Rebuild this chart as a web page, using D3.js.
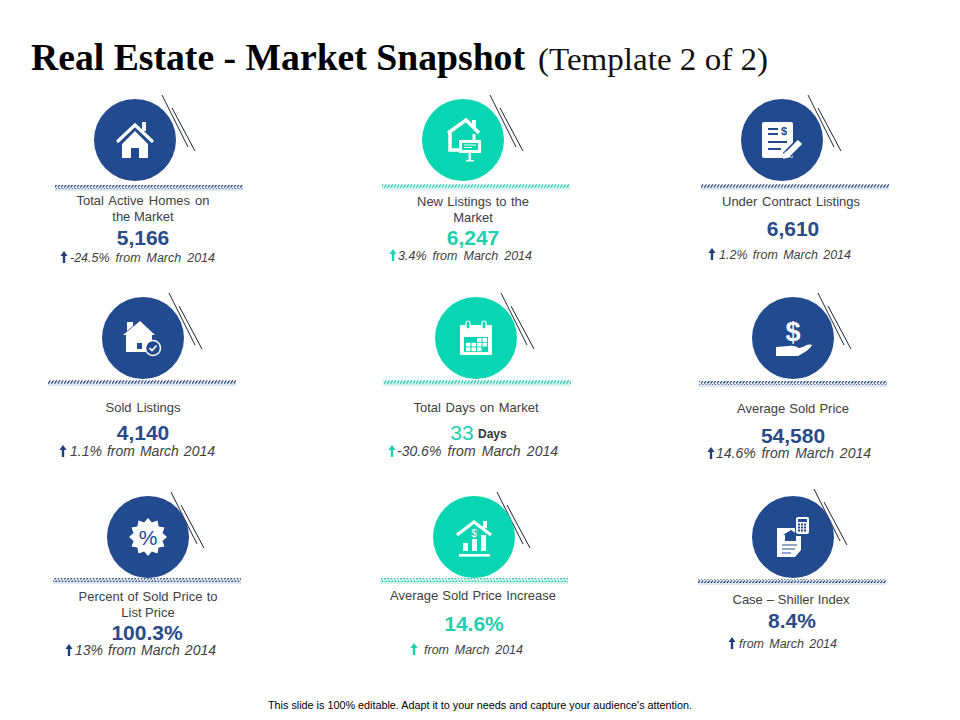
<!DOCTYPE html>
<html>
<head>
<meta charset="utf-8">
<script src="https://cdnjs.cloudflare.com/ajax/libs/d3/7.8.5/d3.min.js"></script>
<style>
html, body { margin: 0; padding: 0; background: #fff; }
text { font-family: "Liberation Sans", Arial, sans-serif; }
</style>
</head>
<body>
<div id="chart"></div>
<script>
// values
var titles = [
    ["Total Active Homes on", "the Market"],
    ["New Listings to the", "Market"],
    ["Under Contract Listings"],
    ["Sold Listings"],
    ["Total Days on Market"],
    ["Average Sold Price"],
    ["Percent of Sold Price to", "List Price"],
    ["Average Sold Price Increase"],
    ["Case \u2013 Shiller Index"]
];
var values = ["5,166", "6,247", "6,610", "4,140", "33", "54,580", "100.3%", "14.6%", "8.4%"];
var changes = [
    "-24.5% from March 2014", "3.4% from March 2014", "1.2% from March 2014",
    "1.1% from March 2014", "-30.6% from March 2014", "14.6% from March 2014",
    "13% from March 2014", "from March 2014", "from March 2014"
];
var tones = ["navy", "teal", "navy", "navy", "teal", "navy", "navy", "teal", "navy"];

// layout of the nine cards (picture coordinates)
var circleX = [135, 463, 782, 143, 476, 793, 148, 474, 793];
var circleY = [140, 140, 140, 338, 338, 338, 537, 537, 537];
var slashX = [162, 490, 808, 169, 501, 818, 171, 497, 814];
var slashY = [95, 95, 95, 293, 293, 293, 492, 492, 489];
var ruleX = [55, 382, 701, 48, 383, 699, 53, 380, 698];
var ruleY = [187, 186, 186, 382, 382, 383, 580, 580, 581];
var titleX = [143, 473, 791, 143, 476, 793, 148, 473, 791];
var titleY = [205, 206, 206, 412, 412, 413, 601, 600, 604];
var valueX = [143, 473, 793, 143, 462, 793, 147, 474, 792];
var valueY = [245, 245, 236, 440, 440, 443, 640, 631, 628];
var arrowX = [64, 393, 712, 63, 392, 711, 69, 414, 732];
var changeX = [70, 398, 719, 70, 397, 716, 75, 424, 739];
var changeY = [262, 260, 259, 456, 456, 458, 655, 654, 648];
var changeW = [145, 134, 132, 145, 161, 155, 141, 99, 98];
var changeSize = [12.5, 12.5, 12.5, 14, 14, 14, 14, 12.5, 12.5];
var titleW = [133, 112, 138, 75, 125, 112, 139, 166, 117];
var ruleWidth = 188;

var colors = { navy: "#224a8f", teal: "#08d5b1" };
var valueColors = { navy: "#2a4b87", teal: "#1fcfae" };
var bands = { navy: "#dfe6f3", teal: "#d3f5ee" };

var svg = d3.select("#chart").append("svg")
    .attr("width", 960)
    .attr("height", 720)
    .style("display", "block");

// hatched rule under each circle
var defs = svg.append("defs");
["navy", "teal"].forEach(function(t) {
    var p = defs.append("pattern")
        .attr("id", "hatch-" + t)
        .attr("patternUnits", "userSpaceOnUse")
        .attr("width", 3.2)
        .attr("height", 4);
    p.append("path")
        .attr("d", "M0.2,3.6L2.4,0.4")
        .attr("stroke", t == "navy" ? "#1f3f78" : "#14bfa5")
        .attr("stroke-width", 1.2);
});

// spread the gaps between words so a line reaches its measured width
function fitWords(sel, width) {
    var node = sel.node();
    var gaps = sel.text().split(" ").length - 1;
    if (gaps > 0) sel.style("word-spacing", (width - node.getComputedTextLength()) / gaps + "px");
}

// the main title
svg.append("text")
    .attr("x", 31).attr("y", 70)
    .attr("textLength", 494).attr("lengthAdjust", "spacingAndGlyphs")
    .style("font-family", "'Liberation Serif', serif")
    .style("font-weight", "bold")
    .style("font-size", "38px")
    .attr("fill", "#000")
    .text("Real Estate - Market Snapshot");
svg.append("text")
    .attr("x", 538).attr("y", 70)
    .attr("textLength", 230).attr("lengthAdjust", "spacingAndGlyphs")
    .style("font-family", "'Liberation Serif', serif")
    .style("font-size", "32px")
    .attr("fill", "#111")
    .text("(Template 2 of 2)");

svg.append("text")
    .attr("x", 480).attr("y", 709)
    .attr("text-anchor", "middle")
    .attr("textLength", 424).attr("lengthAdjust", "spacingAndGlyphs")
    .style("font-size", "10px")
    .attr("fill", "#000")
    .text("This slide is 100% editable. Adapt it to your needs and capture your audience's attention.");

// small helpers for the white pictograms
function poly(g, d, fill) {
    return g.append("path").attr("d", d).attr("fill", fill);
}
function stroke(g, d, col, w) {
    return g.append("path").attr("d", d).attr("fill", "none")
        .attr("stroke", col).attr("stroke-width", w);
}
function box(g, x, y, w, h, fill, r) {
    return g.append("rect").attr("x", x).attr("y", y).attr("width", w).attr("height", h)
        .attr("fill", fill).attr("rx", r || 0);
}

var W = "#fff";
var icons = [
    function(g, c) { // house
        stroke(g, "M-17,1L0,-15L17,1", W, 3.2).attr("stroke-linecap", "round");
        box(g, 7, -18, 4, 9, W);
        poly(g, "M-13,4L0,-9L13,4V18H4V8H-4V18H-13Z", W);
    },
    function(g, c) { // house with a for-sale sign
        stroke(g, "M-15,-7L3,-20L16,-7", W, 3.5);
        box(g, 9, -20, 4, 8, W);
        stroke(g, "M-13,-8V10H-4", W, 3.5);
        stroke(g, "M11,-6V1", W, 3);
        box(g, -4, 0, 22, 13, W);
        box(g, -1, 3, 16, 7, c);
        stroke(g, "M1,5H13M1,7.5H9", W, 1);
        box(g, 5.5, 13, 2.5, 8, W);
        box(g, 3, 20, 8, 1.5, W);
    },
    function(g, c) { // contract with a pen
        box(g, -20, -18, 31, 36, W, 2);
        stroke(g, "M-14,-11H-4M-14,-6H-4M-14,2H5M-14,9H-1", c, 2);
        g.append("text").attr("x", 2).attr("y", -5).attr("text-anchor", "middle")
            .style("font-size", "11px").style("font-weight", "bold")
            .attr("fill", c).text("$");
        stroke(g, "M4,16L18,2", c, 9);
        stroke(g, "M5,15L18,2", W, 6);
        poly(g, "M1,19L3,11L9,17Z", W);
    },
    function(g, c) { // sold house with a check
        poly(g, "M-20,-3L-3,-17L12,-3H9V14H-17V-3Z", W);
        poly(g, "M-16,-16H-10V-12L-16,-7Z", W);
        box(g, -6, 5, 5, 6, c);
        g.append("circle").attr("cx", 10).attr("cy", 10).attr("r", 7.5)
            .attr("fill", c).attr("stroke", W).attr("stroke-width", 1.5);
        stroke(g, "M6.5,10L9,12.5L13.5,7.5", W, 1.7);
    },
    function(g, c) { // calendar
        box(g, -16, -13, 32, 30, W);
        box(g, -12, -1, 24, 15, c);
        [-10, -4.5, 1, 6.5].forEach(function(x, i) {
            [0, 4.7, 9.4].forEach(function(y, j) {
                if ((j == 0 && i > 1) || j == 1 || (j == 2 && i < 3)) box(g, x, y, 4.5, 3.8, W);
            });
        });
        [-8, 8].forEach(function(x) {
            g.append("rect").attr("x", x - 2).attr("y", -17).attr("width", 4).attr("height", 8)
                .attr("rx", 2).attr("fill", c).attr("stroke", W).attr("stroke-width", 1.2);
        });
    },
    function(g, c) { // dollar over a hand
        g.append("text").attr("x", 0).attr("y", 3).attr("text-anchor", "middle")
            .style("font-size", "27px").style("font-weight", "bold")
            .attr("fill", W).text("$");
        poly(g, "M-17,9L-4,8C0,7 4,9 6,10L10,9C13,7 16,6 19,7C17,11 11,15 5,18H-6L-17,18Z", W);
    },
    function(g, c) { // percent badge
        var pts = d3.range(24).map(function(i) {
            var a = i * Math.PI / 12, r = i % 2 ? 15 : 19;
            return [r * Math.sin(a), -r * Math.cos(a)];
        });
        poly(g, d3.line()(pts) + "Z", W);
        g.append("text").attr("x", 0).attr("y", 7.5).attr("text-anchor", "middle")
            .style("font-size", "21px").attr("fill", c).text("%");
    },
    function(g, c) { // house with rising bars
        stroke(g, "M-17,-2L0,-15L17,-2", W, 3.2);
        box(g, 9, -16, 4, 7, W);
        box(g, -11, 6, 5, 8, W);
        box(g, -2, 2, 5, 12, W);
        box(g, 7, -2, 5, 16, W);
        box(g, -15, 17, 31, 2.6, W);
        g.append("text").attr("x", 0).attr("y", 0).attr("text-anchor", "middle")
            .style("font-size", "10px").attr("fill", W).text("$");
    },
    function(g, c) { // document with a calculator
        poly(g, "M-16,-9H8V13L2,20H-16Z", W);
        poly(g, "M-10,-2L-2,-7L5,-2H3V4H-8V-2Z", c);
        stroke(g, "M-11,8H4M-11,12H2M-11,16H-2", c, 1.2);
        box(g, 2, -21, 15, 20, c, 2);
        box(g, 3, -20, 13, 17, W, 2);
        box(g, 5, -18, 9, 3, c);
        [5, 8, 11].forEach(function(x) {
            [-13.5, -10.5, -7.5].forEach(function(y) { box(g, x, y, 2, 2, c); });
        });
    }
];

// one group per card, drawn from the arrays above
var cards = svg.selectAll(".card")
    .data(d3.range(values.length))
    .enter().append("g")
    .attr("class", "card");

// the two slanted lines sit behind the circle
cards.append("path")
    .attr("d", function(i) {
        var x = slashX[i], y = slashY[i];
        return "M" + x + "," + y + "L" + (x + 26) + "," + (y + 52) +
            "M" + (x + 10) + "," + (y + 13) + "L" + (x + 33) + "," + (y + 56);
    })
    .attr("fill", "none")
    .attr("stroke", "#1c2433")
    .attr("stroke-width", 1);

cards.append("circle")
    .attr("cx", function(i) { return circleX[i]; })
    .attr("cy", function(i) { return circleY[i]; })
    .attr("r", 41)
    .attr("fill", function(i) { return colors[tones[i]]; });

cards.append("g")
    .attr("transform", function(i) { return "translate(" + circleX[i] + "," + circleY[i] + ")"; })
    .each(function(i) { icons[i](d3.select(this), colors[tones[i]]); });

cards.append("rect")
    .attr("x", function(i) { return ruleX[i]; })
    .attr("y", function(i) { return ruleY[i] + 1; })
    .attr("width", ruleWidth)
    .attr("height", 3)
    .attr("fill", function(i) { return bands[tones[i]]; });

cards.append("rect")
    .attr("x", function(i) { return ruleX[i]; })
    .attr("y", function(i) { return ruleY[i] - 2; })
    .attr("width", ruleWidth)
    .attr("height", 4)
    .attr("fill", function(i) { return "url(#hatch-" + tones[i] + ")"; });

cards.each(function(i) {
    var card = d3.select(this);
    titles[i].forEach(function(line, k) {
        var t = card.append("text")
            .attr("x", titleX[i])
            .attr("y", titleY[i] + k * 16)
            .attr("text-anchor", "middle")
            .style("font-size", "13px")
            .attr("fill", "#404040")
            .text(line);
        if (k == 0) fitWords(t, titleW[i]);
    });
});

cards.append("text")
    .attr("x", function(i) { return valueX[i]; })
    .attr("y", function(i) { return valueY[i]; })
    .attr("text-anchor", "middle")
    .style("font-size", "21px")
    .style("font-weight", function(i) { return i == 4 ? "normal" : "bold"; })
    .attr("fill", function(i) { return valueColors[tones[i]]; })
    .text(function(i) { return values[i]; });

// the unit next to the days figure
svg.append("text")
    .attr("x", 478).attr("y", 438)
    .style("font-size", "12px").style("font-weight", "bold")
    .attr("fill", "#333")
    .text("Days");

cards.append("path")
    .attr("transform", function(i) { return "translate(" + arrowX[i] + "," + changeY[i] + ")"; })
    .attr("d", "M-1.2,1V-6H-3.6L0,-11L3.6,-6H1.2V1Z")
    .attr("fill", function(i) { return tones[i] == "navy" ? "#1f3f78" : "#1fcfae"; });

cards.append("text")
    .attr("x", function(i) { return changeX[i]; })
    .attr("y", function(i) { return changeY[i]; })
    .style("font-size", function(i) { return changeSize[i] + "px"; })
    .style("font-style", "italic")
    .attr("fill", "#404040")
    .text(function(i) { return changes[i]; })
    .each(function(i) { fitWords(d3.select(this), changeW[i]); });
</script>
</body>
</html>
